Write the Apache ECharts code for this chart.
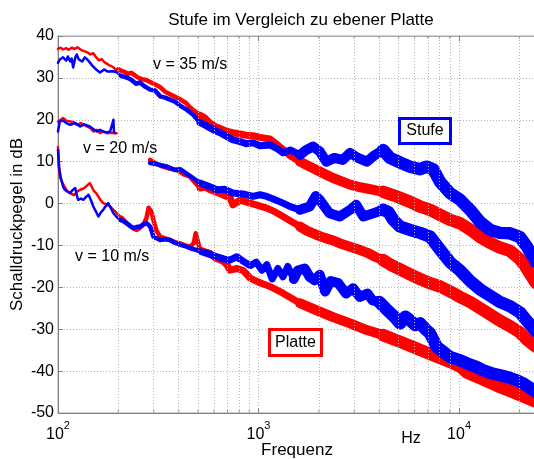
<!DOCTYPE html>
<html>
<head>
<meta charset="utf-8">
<script src="https://cdn.jsdelivr.net/npm/echarts@6/dist/echarts.min.js"></script>
<style>
html, body { margin: 0; padding: 0; background: #fff; }
#chart { width: 534px; height: 459px; }
</style>
</head>
<body>
<div id="chart"></div>
<script>
// Frequenz in Hz, Pegel in dB
var red35 = [[100,36.9],[103,37.2],[106,36.8],[110,37.1],[113,36.7],[117,37.2],[121,36.9],[125,37.3],[130,36.7],[135,36.4],[140,36.1],[145,35.6],[150,35.9],[155,34.9],[160,34.2],[165,34.5],[170,33.8],[175,33.4],[180,33.0],[185,32.8],[190,32.4],[195,31.8],[200,32.1],[207,31.7],[213,31.5],[223,31.0],[232,31.2],[240,30.7],[250,30.1],[262,29.7],[275,29.5],[288,29.0],[305,28.4],[323,27.8],[342,26.7],[362,26.1],[383,25.5],[406,24.9],[435,24.0],[455,23.0],[482,22.0],[511,21.1],[541,20.4],[573,19.2],[607,18.4],[643,17.9],[688,17.3],[746,16.9],[809,16.6],[866,16.3],[939,16.2],[1017,15.8],[1141,15.4],[1230,14.2],[1325,12.9],[1450,11.3],[1611,10.0],[1770,9.0],[1950,8.0],[2150,7.0],[2354,6.1],[2600,5.3],[2859,4.5],[3150,4.0],[3466,3.6],[3800,3.2],[4178,2.8],[4890,1.7],[5700,0.4],[6387,-0.7],[7167,-1.5],[8040,-2.7],[9020,-3.9],[10120,-4.7],[11350,-6.2],[12740,-8.0],[14290,-9.4],[16000,-10.5],[17960,-11.3],[20150,-13.3],[21400,-15.0],[22610,-16.8],[24200,-19.0]];
var blue35 = [[100,33.6],[102,34.4],[106,34.9],[110,34.1],[112,35.1],[115,33.9],[117,34.6],[119,32.5],[122,34.9],[124,35.6],[127,34.4],[132,33.9],[136,34.9],[140,34.4],[144,33.7],[149,32.8],[155,32.0],[162,31.3],[170,32.0],[177,31.5],[188,31.6],[197,31.3],[206,30.5],[220,30.1],[231,29.6],[245,28.6],[256,28.9],[272,27.9],[288,27.2],[305,27.0],[323,25.6],[342,25.3],[362,24.8],[383,24.3],[406,23.4],[438,22.4],[472,21.2],[511,19.3],[548,18.6],[594,17.6],[643,16.9],[694,16.0],[746,15.2],[809,14.8],[866,14.3],[939,14.5],[1017,13.8],[1141,14.0],[1230,13.2],[1325,12.1],[1440,12.8],[1611,11.6],[1730,12.8],[1870,13.6],[2020,12.4],[2180,10.0],[2390,10.9],[2630,10.4],[2860,12.1],[3130,10.9],[3470,10.0],[3810,11.6],[4180,12.8],[4520,10.9],[5080,9.8],[5700,8.8],[6390,8.2],[6900,8.8],[7430,8.2],[8040,5.2],[9020,2.5],[10120,0.9],[11350,-1.5],[12740,-4.4],[14290,-6.3],[16000,-7.0],[17960,-7.1],[20150,-8.0],[21800,-10.3],[24200,-14.0]];

var red20a = [[100,19.6],[106,20.4],[110,19.8],[115,19.6],[120,19.4],[124,18.8],[130,19.2],[139,18.4],[145,18.0],[150,17.2],[156,17.6],[162,16.8],[168,17.2],[175,16.8],[185,16.9],[196,16.8]];
var blue20a = [[100,17.2],[102,19.6],[106,19.8],[110,19.2],[115,18.8],[122,19.2],[129,18.4],[135,18.9],[144,18.4],[150,17.8],[156,17.2],[162,17.6],[168,17.2],[175,17.0],[182,17.2],[186,17.0],[189,20.0],[190,17.2],[192,16.8]];
var red20b = [[288,10.4],[308,9.5],[333,8.8],[362,8.3],[392,8.0],[422,7.0],[455,6.4],[482,5.0],[511,3.7],[541,3.9],[573,3.3],[627,2.6],[694,1.7],[720,1.5],[746,-0.3],[809,0.8],[909,0.1],[1000,-0.5],[1100,-1.1],[1210,-2.0],[1325,-3.1],[1450,-4.2],[1611,-5.5],[1760,-6.6],[1950,-7.5],[2140,-8.2],[2354,-8.8],[2580,-9.6],[2860,-10.3],[3130,-10.9],[3470,-11.7],[3810,-12.7],[4180,-13.5],[4520,-14.5],[5080,-15.7],[5700,-16.9],[6390,-18.0],[7170,-19.0],[8040,-19.8],[9020,-21.0],[10120,-22.3],[11350,-23.5],[12740,-25.0],[14290,-26.5],[16000,-28.0],[17960,-29.3],[20150,-30.8],[21800,-32.5],[24200,-34.2]];
var blue20b = [[288,9.7],[305,9.5],[323,9.2],[352,8.8],[383,8.0],[406,8.2],[455,6.6],[511,4.9],[560,4.2],[620,3.3],[680,3.4],[746,2.5],[835,2.3],[939,1.7],[1017,2.1],[1100,1.7],[1210,0.9],[1325,0.1],[1450,-0.8],[1611,-1.5],[1800,-0.7],[1930,1.8],[2020,0.9],[2140,-0.8],[2260,-2.3],[2540,-3.1],[2860,-1.5],[3070,-0.3],[3330,-3.1],[3740,-2.3],[4180,-1.5],[4440,-2.0],[4700,-3.9],[5080,-5.5],[5700,-6.3],[6390,-7.0],[7170,-7.9],[8040,-11.0],[9020,-14.0],[10120,-16.0],[11350,-18.5],[12740,-20.5],[14290,-22.0],[16000,-23.5],[17960,-24.5],[20150,-26.0],[21800,-28.0],[24200,-30.5]];

var red10 = [[100,13.5],[101,10.0],[102,6.5],[105,5.0],[108,4.0],[111,3.0],[115,2.5],[120,2.0],[125,2.9],[129,3.3],[134,3.6],[139,4.2],[144,4.9],[147,4.5],[151,3.0],[156,2.3],[162,1.0],[168,0.1],[175,-0.2],[182,-0.7],[189,-1.5],[196,-2.3],[208,-3.4],[220,-4.7],[233,-5.6],[247,-6.3],[256,-5.8],[266,-5.1],[276,-3.5],[283,-1.0],[288,-0.7],[293,-2.0],[299,-3.9],[310,-6.5],[323,-7.9],[342,-8.3],[362,-8.7],[384,-9.2],[406,-9.5],[430,-10.0],[455,-10.3],[475,-9.5],[486,-7.1],[495,-8.5],[511,-11.1],[540,-11.5],[573,-11.9],[610,-13.0],[667,-13.8],[700,-14.8],[720,-15.9],[780,-15.5],[840,-16.0],[908,-17.8],[975,-18.5],[1040,-19.1],[1141,-19.8],[1325,-21.4],[1611,-23.8],[1950,-25.5],[2354,-27.1],[2860,-28.6],[3470,-30.2],[4180,-31.4],[5080,-33.0],[6150,-34.6],[7430,-36.2],[9020,-37.8],[10200,-39.0],[11000,-40.4],[13200,-42.0],[16000,-43.8],[19400,-45.4],[24200,-47.3]];
var blue10 = [[100,12.8],[101,8.8],[103,6.5],[104,5.6],[106,4.0],[108,3.3],[112,2.8],[115,2.5],[118,3.2],[122,3.7],[124,2.0],[126,0.9],[130,1.2],[134,0.9],[138,1.6],[142,2.1],[146,0.8],[150,-0.7],[155,-2.0],[159,-3.1],[163,-2.2],[168,-1.5],[173,-0.6],[178,0.1],[183,-1.0],[189,-2.3],[196,-3.2],[204,-3.9],[212,-4.2],[220,-4.7],[228,-5.3],[237,-5.9],[246,-5.6],[256,-5.5],[266,-5.0],[277,-4.7],[283,-5.0],[288,-5.5],[293,-6.5],[299,-7.9],[310,-8.3],[323,-8.7],[342,-8.5],[362,-8.7],[376,-9.2],[391,-9.5],[412,-9.9],[438,-10.3],[465,-10.8],[492,-11.1],[520,-11.5],[552,-11.9],[585,-12.3],[620,-12.7],[670,-13.2],[720,-13.5],[778,-12.7],[840,-13.8],[908,-14.8],[975,-14.0],[1040,-15.9],[1100,-14.6],[1170,-18.0],[1250,-15.5],[1325,-17.5],[1400,-15.0],[1500,-18.0],[1570,-16.0],[1700,-15.5],[1800,-17.5],[1900,-18.3],[2020,-17.0],[2150,-21.0],[2290,-18.5],[2500,-19.0],[2730,-21.5],[2960,-20.2],[3200,-22.3],[3500,-21.5],[3700,-23.1],[4000,-23.5],[4400,-25.5],[4750,-27.0],[5080,-28.6],[5400,-27.0],[5700,-27.9],[6050,-29.0],[6400,-28.6],[6800,-30.0],[7170,-31.0],[7740,-34.2],[8400,-35.5],[9000,-36.6],[9950,-37.3],[11000,-38.2],[12200,-39.0],[13200,-39.8],[14500,-40.5],[16000,-41.0],[17600,-41.5],[19400,-42.2],[21000,-43.0],[22700,-44.1],[24200,-45.0]];

var minorFreqs = [200,300,400,500,600,700,800,900,2000,3000,4000,5000,6000,7000,8000,9000,20000];

var FONT = 'Liberation Sans';
var RED = '#ff0000', BLUE = '#0000ff';
// Strichstaerke waechst mit der Frequenz (Rauschband wird im log-Plot dichter)
var breaks = [200, 500, 1500, 4000];
var widths = [2.5, 4.5, 7, 10, 12.5];

function splitByFreq(data) {
    var edges = [0].concat(breaks, [Infinity]);
    var out = [];
    for (var k = 0; k < edges.length - 1; k++) {
        var seg = [];
        for (var i = 0; i < data.length; i++) {
            var f = data[i][0];
            if (f >= edges[k] && f <= edges[k + 1]) {
                seg.push(data[i]);
            } else if (f > edges[k + 1]) {
                if (seg.length) seg.push(data[i]);
                break;
            }
        }
        out.push(seg);
    }
    return out;
}

function band(data, color, z) {
    var list = [];
    splitByFreq(data).forEach(function (seg, k) {
        if (seg.length < 2) return;
        list.push({
            type: 'line',
            data: seg,
            symbol: 'none',
            silent: true,
            z: z,
            lineStyle: { color: color, width: widths[k], cap: 'round', join: 'round' }
        });
    });
    return list;
}

var chart = echarts.init(document.getElementById('chart'));

var series = [].concat(
    band(red35, RED, 3), band(red20a, RED, 3), band(red20b, RED, 3), band(red10, RED, 3),
    band(blue35, BLUE, 4), band(blue20a, BLUE, 4), band(blue20b, BLUE, 4), band(blue10, BLUE, 4)
);

// kleine Teilstriche unten/oben + gepunktete Nebengitterlinien
series.push({
    type: 'scatter',
    silent: true,
    z: 1,
    symbol: 'rect',
    symbolSize: [1, 3],
    symbolOffset: [0, -1.5],
    itemStyle: { color: '#808080' },
    data: minorFreqs.map(function (f) { return [f, -50]; }),
    markLine: {
        silent: true,
        symbol: 'none',
        label: { show: false },
        lineStyle: { color: '#b4b4b4', type: [1, 2], width: 1 },
        data: minorFreqs.map(function (f) { return { xAxis: f }; })
    }
});
series.push({
    type: 'scatter',
    silent: true,
    z: 1,
    symbol: 'rect',
    symbolSize: [1, 3],
    symbolOffset: [0, 1.5],
    itemStyle: { color: '#808080' },
    data: minorFreqs.map(function (f) { return [f, 40]; })
});

var option = {
    animation: false,
    backgroundColor: '#fff',
    textStyle: { fontFamily: FONT },
    title: {
        text: 'Stufe im Vergleich zu ebener Platte',
        left: 296,
        top: 7,
        textAlign: 'center',
        textStyle: { fontSize: 17, fontWeight: 'normal', color: '#000', fontFamily: FONT }
    },
    grid: {
        left: 58, right: -2, top: 36, bottom: 46,
        outerBoundsMode: 'none',
        containLabel: false,
        show: true, borderColor: '#a8a8a8', borderWidth: 1
    },
    xAxis: [{
        type: 'log',
        logBase: 10,
        min: 100,
        max: 24200,
        axisLine: { onZero: false, lineStyle: { color: '#808080' } },
        axisTick: { inside: true, length: 5, lineStyle: { color: '#808080' } },
        splitLine: { show: true, lineStyle: { color: '#b4b4b4', type: [1, 2] } },
        axisLabel: {
            showMaxLabel: false,
            margin: 7,
            color: '#000',
            formatter: function (v) {
                var e = Math.round(Math.log(v) / Math.LN10);
                return '{b|10}{s|' + e + '}';
            },
            rich: {
                b: { fontSize: 16, fontFamily: FONT, color: '#000' },
                s: { fontSize: 11, fontFamily: FONT, color: '#000', padding: [0, 0, 18, 0] }
            }
        },
        name: 'Frequenz',
        nameLocation: 'middle',
        nameGap: 29,
        nameMoveOverlap: false,
        nameTextStyle: { fontSize: 17, color: '#000', fontFamily: FONT }
    }, {
        type: 'log',
        logBase: 10,
        min: 100,
        max: 24200,
        position: 'top',
        axisLine: { onZero: false, lineStyle: { color: '#a8a8a8' } },
        axisTick: { inside: true, length: 5, lineStyle: { color: '#808080' } },
        axisLabel: { show: false },
        splitLine: { show: false }
    }],
    yAxis: {
        type: 'value',
        min: -50,
        max: 40,
        interval: 10,
        axisLine: { show: true, onZero: false, lineStyle: { color: '#808080' } },
        axisTick: { show: true, inside: true, length: 5, lineStyle: { color: '#808080' } },
        splitLine: { show: true, lineStyle: { color: '#b4b4b4', type: [1, 2] } },
        axisLabel: { fontSize: 16, color: '#000', margin: 4, fontFamily: FONT },
        name: 'Schalldruckpegel in dB',
        nameLocation: 'middle',
        nameGap: 32,
        nameMoveOverlap: false,
        nameTextStyle: { fontSize: 17, color: '#000', fontFamily: FONT }
    },
    graphic: [
        { type: 'text', z: 10, style: { text: 'v = 35 m/s', x: 153, y: 65, textVerticalAlign: 'middle', font: '16px "Liberation Sans"', fill: '#000' } },
        { type: 'text', z: 10, style: { text: 'v = 20 m/s', x: 83, y: 149, textVerticalAlign: 'middle', font: '16px "Liberation Sans"', fill: '#000' } },
        { type: 'text', z: 10, style: { text: 'v = 10 m/s', x: 75, y: 257, textVerticalAlign: 'middle', font: '16px "Liberation Sans"', fill: '#000' } },
        { type: 'text', z: 10, style: { text: 'Hz', x: 411, y: 439, textAlign: 'center', textVerticalAlign: 'middle', font: '16px "Liberation Sans"', fill: '#000' } },
        { type: 'rect', z: 10, shape: { x: 399.5, y: 118.5, width: 51, height: 25 }, style: { fill: '#fff', stroke: BLUE, lineWidth: 3 } },
        { type: 'text', z: 11, style: { text: 'Stufe', x: 425, y: 131, textAlign: 'center', textVerticalAlign: 'middle', font: '16px "Liberation Sans"', fill: '#000' } },
        { type: 'rect', z: 10, shape: { x: 269.5, y: 329.5, width: 52, height: 26 }, style: { fill: '#fff', stroke: RED, lineWidth: 3 } },
        { type: 'text', z: 11, style: { text: 'Platte', x: 295.5, y: 342.5, textAlign: 'center', textVerticalAlign: 'middle', font: '16px "Liberation Sans"', fill: '#000' } }
    ],
    series: series
};

chart.setOption(option);
</script>
</body>
</html>
